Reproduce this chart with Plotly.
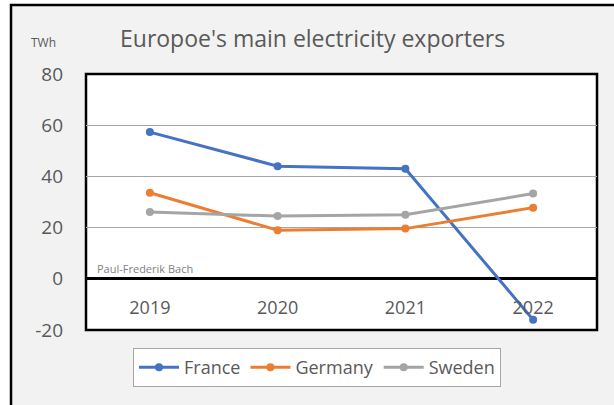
import plotly.graph_objects as go

years = ["2019", "2020", "2021", "2022"]
france = [57.3, 44.0, 43.0, -16.0]
germany = [33.6, 19.0, 19.6, 27.8]
sweden = [26.1, 24.5, 25.0, 33.3]
series_names = ["France", "Germany", "Sweden"]
series_colors = ["#4472C4", "#ED7D31", "#A5A5A5"]
y_ticks = [-20, 0, 20, 40, 60, 80]
y_tick_labels = [str(v) for v in y_ticks]

title_text = "Europoe's main electricity exporters"
unit_text = "TWh"
credit_text = "Paul-Frederik Bach"

W, H = 614, 405
ML, MR, MT, MB = 86, 17, 74, 75
PW, PH = W - ML - MR, H - MT - MB


def px(p):
    return (p - ML) / PW


def py(q):
    return (H - MB - q) / PH


fig = go.Figure()
for name, vals, col in zip(series_names, [france, germany, sweden], series_colors):
    fig.add_trace(go.Scatter(
        x=years, y=vals, name=name, mode="lines+markers",
        line=dict(color=col, width=3),
        marker=dict(color=col, size=8),
    ))

font_family = "Open Sans"
fig.update_layout(
    width=W, height=H,
    margin=dict(l=ML, r=MR, t=MT, b=MB),
    paper_bgcolor="white",
    plot_bgcolor="white",
    font=dict(family=font_family, color="#595959"),
    showlegend=True,
    legend=dict(
        orientation="h", x=px(317), xanchor="center", y=py(348), yanchor="top",
        bgcolor="white", bordercolor="#A6A6A6", borderwidth=1,
        font=dict(size=18, color="#595959"),
        itemwidth=40,
    ),
    xaxis=dict(
        type="category", range=[-0.5, 3.5],
        anchor="free", position=py(279),
        showgrid=False, showline=False, zeroline=False,
        ticks="", ticklabelstandoff=16,
        tickfont=dict(size=18, color="#595959"),
    ),
    yaxis=dict(
        range=[-20, 80], tickvals=y_ticks, ticktext=y_tick_labels,
        showgrid=True, gridcolor="#A6A6A6", gridwidth=1,
        zeroline=True, zerolinecolor="black", zerolinewidth=2.5,
        showline=False, ticks="", ticklabelstandoff=22,
        tickfont=dict(size=19, color="#595959"),
    ),
    shapes=[
        dict(type="rect", xref="paper", yref="paper",
             x0=px(11), x1=px(900), y0=py(5), y1=py(600),
             fillcolor="#F2F2F2", line=dict(color="black", width=2.5), layer="below"),
        dict(type="rect", xref="paper", yref="paper",
             x0=0, x1=1, y0=0, y1=1,
             fillcolor="white", line=dict(color="black", width=2.5), layer="below"),
    ],
    annotations=[
        dict(text=title_text, xref="paper", yref="paper", x=px(312), y=py(38),
             xanchor="center", yanchor="middle", showarrow=False,
             font=dict(size=23, color="#595959")),
        dict(text=unit_text, xref="paper", yref="paper", x=px(29), y=py(42),
             xanchor="left", yanchor="middle", showarrow=False,
             font=dict(size=12, color="#595959")),
        dict(text=credit_text, xref="paper", yref="paper", x=px(95), y=py(268),
             xanchor="left", yanchor="middle", showarrow=False,
             font=dict(size=11, color="#7F7F7F")),
    ],
)

fig.write_html("out.html")
